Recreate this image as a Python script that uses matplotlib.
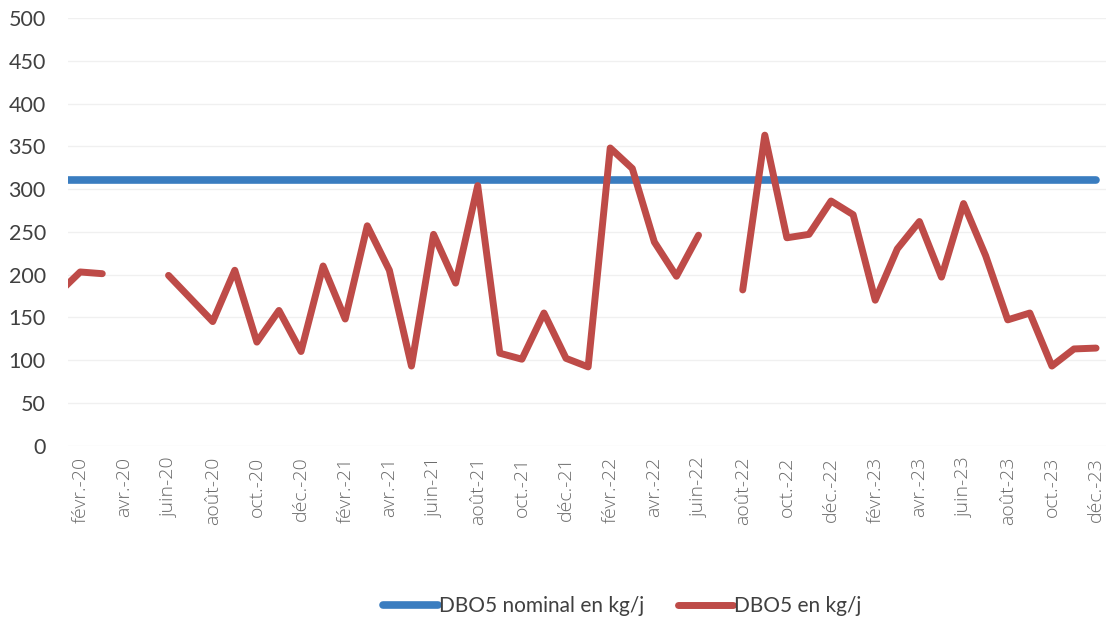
import numpy as np
import matplotlib
matplotlib.use("Agg")
import matplotlib.pyplot as plt
from matplotlib.ticker import FixedLocator, FixedFormatter

# Monthly series, janv.-20 to déc.-23 (None = no measurement)
months = [
    "janv.-20", "févr.-20", "mars-20", "avr.-20", "mai-20", "juin-20",
    "juil.-20", "août-20", "sept.-20", "oct.-20", "nov.-20", "déc.-20",
    "janv.-21", "févr.-21", "mars-21", "avr.-21", "mai-21", "juin-21",
    "juil.-21", "août-21", "sept.-21", "oct.-21", "nov.-21", "déc.-21",
    "janv.-22", "févr.-22", "mars-22", "avr.-22", "mai-22", "juin-22",
    "juil.-22", "août-22", "sept.-22", "oct.-22", "nov.-22", "déc.-22",
    "janv.-23", "févr.-23", "mars-23", "avr.-23", "mai-23", "juin-23",
    "juil.-23", "août-23", "sept.-23", "oct.-23", "nov.-23", "déc.-23",
]
dbo5 = [
    178, 203, 201, None, None, 199, 172, 145, 205, 121, 158, 110,
    210, 148, 257, 205, 93, 247, 190, 304, 108, 101, 155, 102,
    92, 348, 324, 238, 198, 246, None, 182, 363, 243, 247, 286,
    270, 170, 230, 262, 197, 283, 222, 147, 155, 93, 113, 114,
]
dbo5_nominal = [311] * len(months)

y_ticks = [0, 50, 100, 150, 200, 250, 300, 350, 400, 450, 500]

label_nominal = "DBO5 nominal en kg/j"
label_dbo5 = "DBO5 en kg/j"

blue = "#3A7DC0"
red = "#BE4B48"

# x positions: month index, févr.-20 = 0
x = np.arange(len(months)) - 1
y_red = np.array([np.nan if v is None else v for v in dbo5], dtype=float)
y_blue = np.array(dbo5_nominal, dtype=float)

fig = plt.figure(figsize=(11.10, 6.23), dpi=100)
ax = fig.add_axes([0.0613, 0.2848, 0.9351, 0.6863])

ax.plot(x, y_blue, color=blue, lw=5.5, solid_capstyle="round",
        label=label_nominal, zorder=3)
ax.plot(x, y_red, color=red, lw=5.0, solid_capstyle="round",
        solid_joinstyle="round", label=label_dbo5, zorder=4)

ax.set_xlim(-0.55, 46.45)
ax.set_ylim(0, 500)

ax.yaxis.set_major_locator(FixedLocator(y_ticks))
ax.set_yticklabels([str(t) for t in y_ticks], family="Lato", fontsize=15.5,
                   color="#404040")
ax.grid(axis="y", color="#f0f0f0", lw=1.0, zorder=0)

tick_idx = list(range(1, len(months), 2))
ax.xaxis.set_major_locator(FixedLocator([x[i] for i in tick_idx]))
ax.xaxis.set_major_formatter(FixedFormatter([months[i] for i in tick_idx]))
for lab in ax.get_xticklabels():
    lab.set_rotation(90)
    lab.set_family("Open Sans")
    lab.set_fontweight("light")
    lab.set_fontsize(14)
    lab.set_color("#6a6a6a")

ax.tick_params(axis="both", length=0)
ax.tick_params(axis="y", pad=16)
ax.tick_params(axis="x", pad=8)
for side in ["top", "right", "left", "bottom"]:
    ax.spines[side].set_visible(False)

leg = fig.legend(loc="center", bbox_to_anchor=(0.5605, 0.027), ncol=2,
                 frameon=False, handlelength=2.65, columnspacing=1.6,
                 handletextpad=0.05,
                 prop={"family": "Lato", "size": 15})
for t in leg.get_texts():
    t.set_color("#404040")

fig.savefig("out.png", dpi=100)
